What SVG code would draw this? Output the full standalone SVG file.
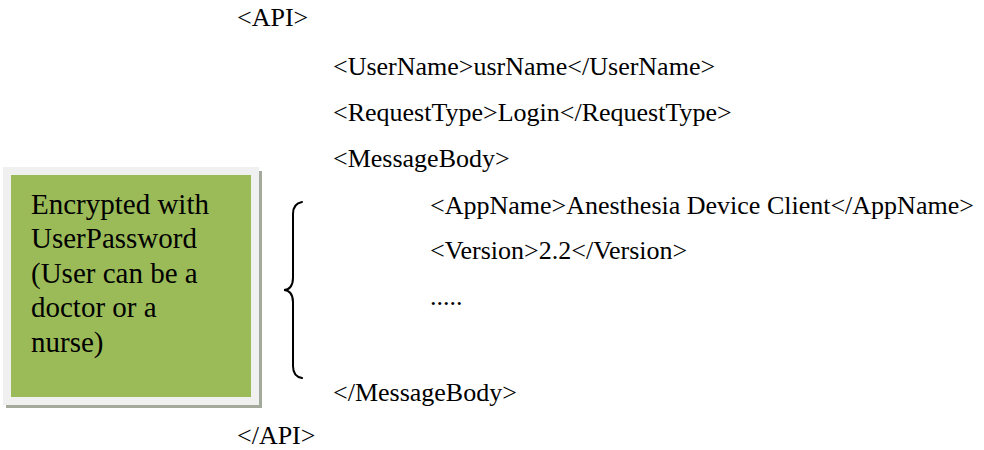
<svg xmlns="http://www.w3.org/2000/svg" width="984" height="450" viewBox="0 0 984 450">
  <style>
    .xml { font-family: "Liberation Serif", "Times New Roman", serif; font-size: 26px; fill: #000; }
    .note { font-family: "Liberation Serif", "Times New Roman", serif; font-size: 29px; fill: #000; }
    .brace { fill: none; stroke: #000; stroke-width: 2; stroke-linecap: round; }
  </style>
  <rect width="984" height="450" fill="#fff"/>

  <!-- note box: shadow, light frame, green panel -->
  <g id="note-box">
    <rect x="6" y="171" width="256" height="237" fill="#a3a99b"/>
    <rect x="3" y="167" width="256" height="238" fill="#f0f0f0"/>
    <rect x="11" y="175" width="240" height="222" fill="#9bbb59"/>
    <text class="note" x="31" y="214">Encrypted with</text>
    <text class="note" x="31" y="248">UserPassword</text>
    <text class="note" x="31" y="283">(User can be a</text>
    <text class="note" x="31" y="317">doctor or a</text>
    <text class="note" x="31" y="352">nurse)</text>
  </g>

  <!-- curly brace spanning the message body -->
  <g id="connectors">
    <path class="brace" d="M302,202 C296,203 293,207 293,214 L293,278 C293,286 289,290 284,290 C289,290 293,294 293,302 L293,366 C293,373 296,377 302,378"/>
  </g>

  <g id="xml-listing">
    <text class="xml" x="237" y="26">&lt;API&gt;</text>
    <text class="xml" x="333" y="75">&lt;UserName&gt;usrName&lt;/UserName&gt;</text>
    <text class="xml" x="333" y="121">&lt;RequestType&gt;Login&lt;/RequestType&gt;</text>
    <text class="xml" x="333" y="167">&lt;MessageBody&gt;</text>
    <text class="xml" x="430" y="214">&lt;AppName&gt;Anesthesia Device Client&lt;/AppName&gt;</text>
    <text class="xml" x="430" y="259">&lt;Version&gt;2.2&lt;/Version&gt;</text>
    <text class="xml" x="430" y="305">.....</text>
    <text class="xml" x="333" y="401">&lt;/MessageBody&gt;</text>
    <text class="xml" x="237" y="444">&lt;/API&gt;</text>
  </g>
</svg>
